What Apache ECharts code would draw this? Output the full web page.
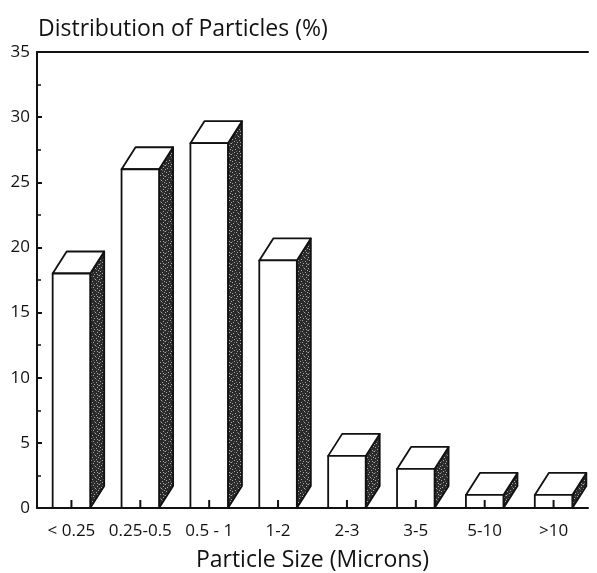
<!DOCTYPE html>
<html>
<head>
<meta charset="utf-8">
<script src="https://cdn.jsdelivr.net/npm/echarts@6/dist/echarts.min.js"></script>
<style>
  html, body { margin: 0; padding: 0; background: #fff; }
  #chart { width: 597px; height: 573px; }
</style>
</head>
<body>
<div id="chart"></div>
<script>
// chart data
var sizeCategories = ['< 0.25', '0.25-0.5', '0.5 - 1', '1-2', '2-3', '3-5', '5-10', '>10']
var particlePercent = [18, 26, 28, 19, 4, 3, 1, 1]
var yTicks = [0, 5, 10, 15, 20, 25, 30, 35]

// stippled pattern for the shaded side of each box
function makeStipple () {
  var c = document.createElement('canvas')
  c.width = 11
  c.height = 11
  var g = c.getContext('2d')
  g.fillStyle = '#2a2a2a'
  g.fillRect(0, 0, 11, 11)
  g.fillStyle = '#a8a8a8'
  var dots = [[0, 0], [5, 1], [9, 2], [2, 3], [7, 4], [4, 6], [10, 6], [1, 7], [8, 8], [3, 9], [6, 10], [9, 10], [0, 4]]
  dots.forEach(function (d) { g.fillRect(d[0], d[1], 1, 1) })
  g.fillStyle = '#666'
  var mids = [[3, 1], [8, 5], [5, 8], [1, 10], [10, 0], [6, 3]]
  mids.forEach(function (d) { g.fillRect(d[0], d[1], 1, 1) })
  return c
}
var stipple = { image: makeStipple(), repeat: 'repeat' }

var depthX = 14
var depthY = 22
var font = 'Open Sans'

var chart = echarts.init(document.getElementById('chart'))
var option = {
  animation: false,
  title: {
    text: 'Distribution of Particles (%)',
    left: 33,
    top: 13,
    textStyle: { fontFamily: font, fontWeight: 'normal', fontSize: 23, color: '#111' }
  },
  grid: { left: 37, right: 9, top: 52, bottom: 65, containLabel: false, outerBoundsMode: 'none' },
  xAxis: [{
    type: 'category',
    data: sizeCategories,
    zlevel: 1,
    axisLine: { show: true, lineStyle: { color: '#111', width: 2 } },
    axisTick: { show: false },
    axisLabel: { fontFamily: font, fontSize: 17, color: '#111', margin: 15, interval: 0 },
    name: 'Particle Size (Microns)',
    nameLocation: 'middle',
    nameGap: 41,
    nameTextStyle: { fontFamily: font, fontSize: 23, color: '#111' }
  }, {
    type: 'category',
    position: 'top',
    data: sizeCategories,
    axisLine: { show: true, lineStyle: { color: '#111', width: 2 } },
    axisTick: { show: false },
    axisLabel: { show: false }
  }],
  yAxis: {
    type: 'value',
    min: 0,
    max: 35,
    interval: 5,
    zlevel: 1,
    axisLine: { show: true, lineStyle: { color: '#111', width: 2 } },
    axisTick: { show: true, inside: true, length: 5, lineStyle: { color: '#111', width: 2 } },
    minorTick: { show: true, splitNumber: 2, length: 4, lineStyle: { color: '#111', width: 1.5 } },
    splitLine: { show: false },
    axisLabel: {
      fontFamily: font, fontSize: 17, color: '#111', margin: 7,
      formatter: function (v) { return yTicks.indexOf(v) >= 0 ? String(v) : '' }
    }
  },
  series: [{
    type: 'custom',
    data: particlePercent.map(function (v, i) { return [i, v] }),
    encode: { x: 0, y: 1 },
    renderItem: function (params, api) {
      var top = api.coord([api.value(0), api.value(1)])
      var base = api.coord([api.value(0), 0])
      var band = api.size([1, 0])[0]
      var w = band * 0.545
      var fl = top[0] - w / 2
      var fr = top[0] + w / 2
      var yt = top[1]
      var y0 = base[1]
      var line = { stroke: '#111', lineWidth: 1.8, lineJoin: 'round' }
      return {
        type: 'group',
        children: [{
          type: 'polygon',
          shape: { points: [[fr, yt], [fr + depthX, yt - depthY], [fr + depthX, y0 - depthY], [fr, y0]] },
          style: Object.assign({ fill: stipple }, line)
        }, {
          type: 'polygon',
          shape: { points: [[fl, yt], [fl + depthX, yt - depthY], [fr + depthX, yt - depthY], [fr, yt]] },
          style: Object.assign({ fill: '#fff' }, line)
        }, {
          type: 'rect',
          shape: { x: fl, y: yt, width: w, height: y0 - yt },
          style: Object.assign({ fill: '#fff' }, line)
        }, {
          // category tick, drawn over the front face
          type: 'line',
          shape: { x1: base[0], y1: y0, x2: base[0], y2: y0 - 8 },
          style: { stroke: '#111', lineWidth: 2 }
        }]
      }
    }
  }]
}
chart.setOption(option)
</script>
</body>
</html>
